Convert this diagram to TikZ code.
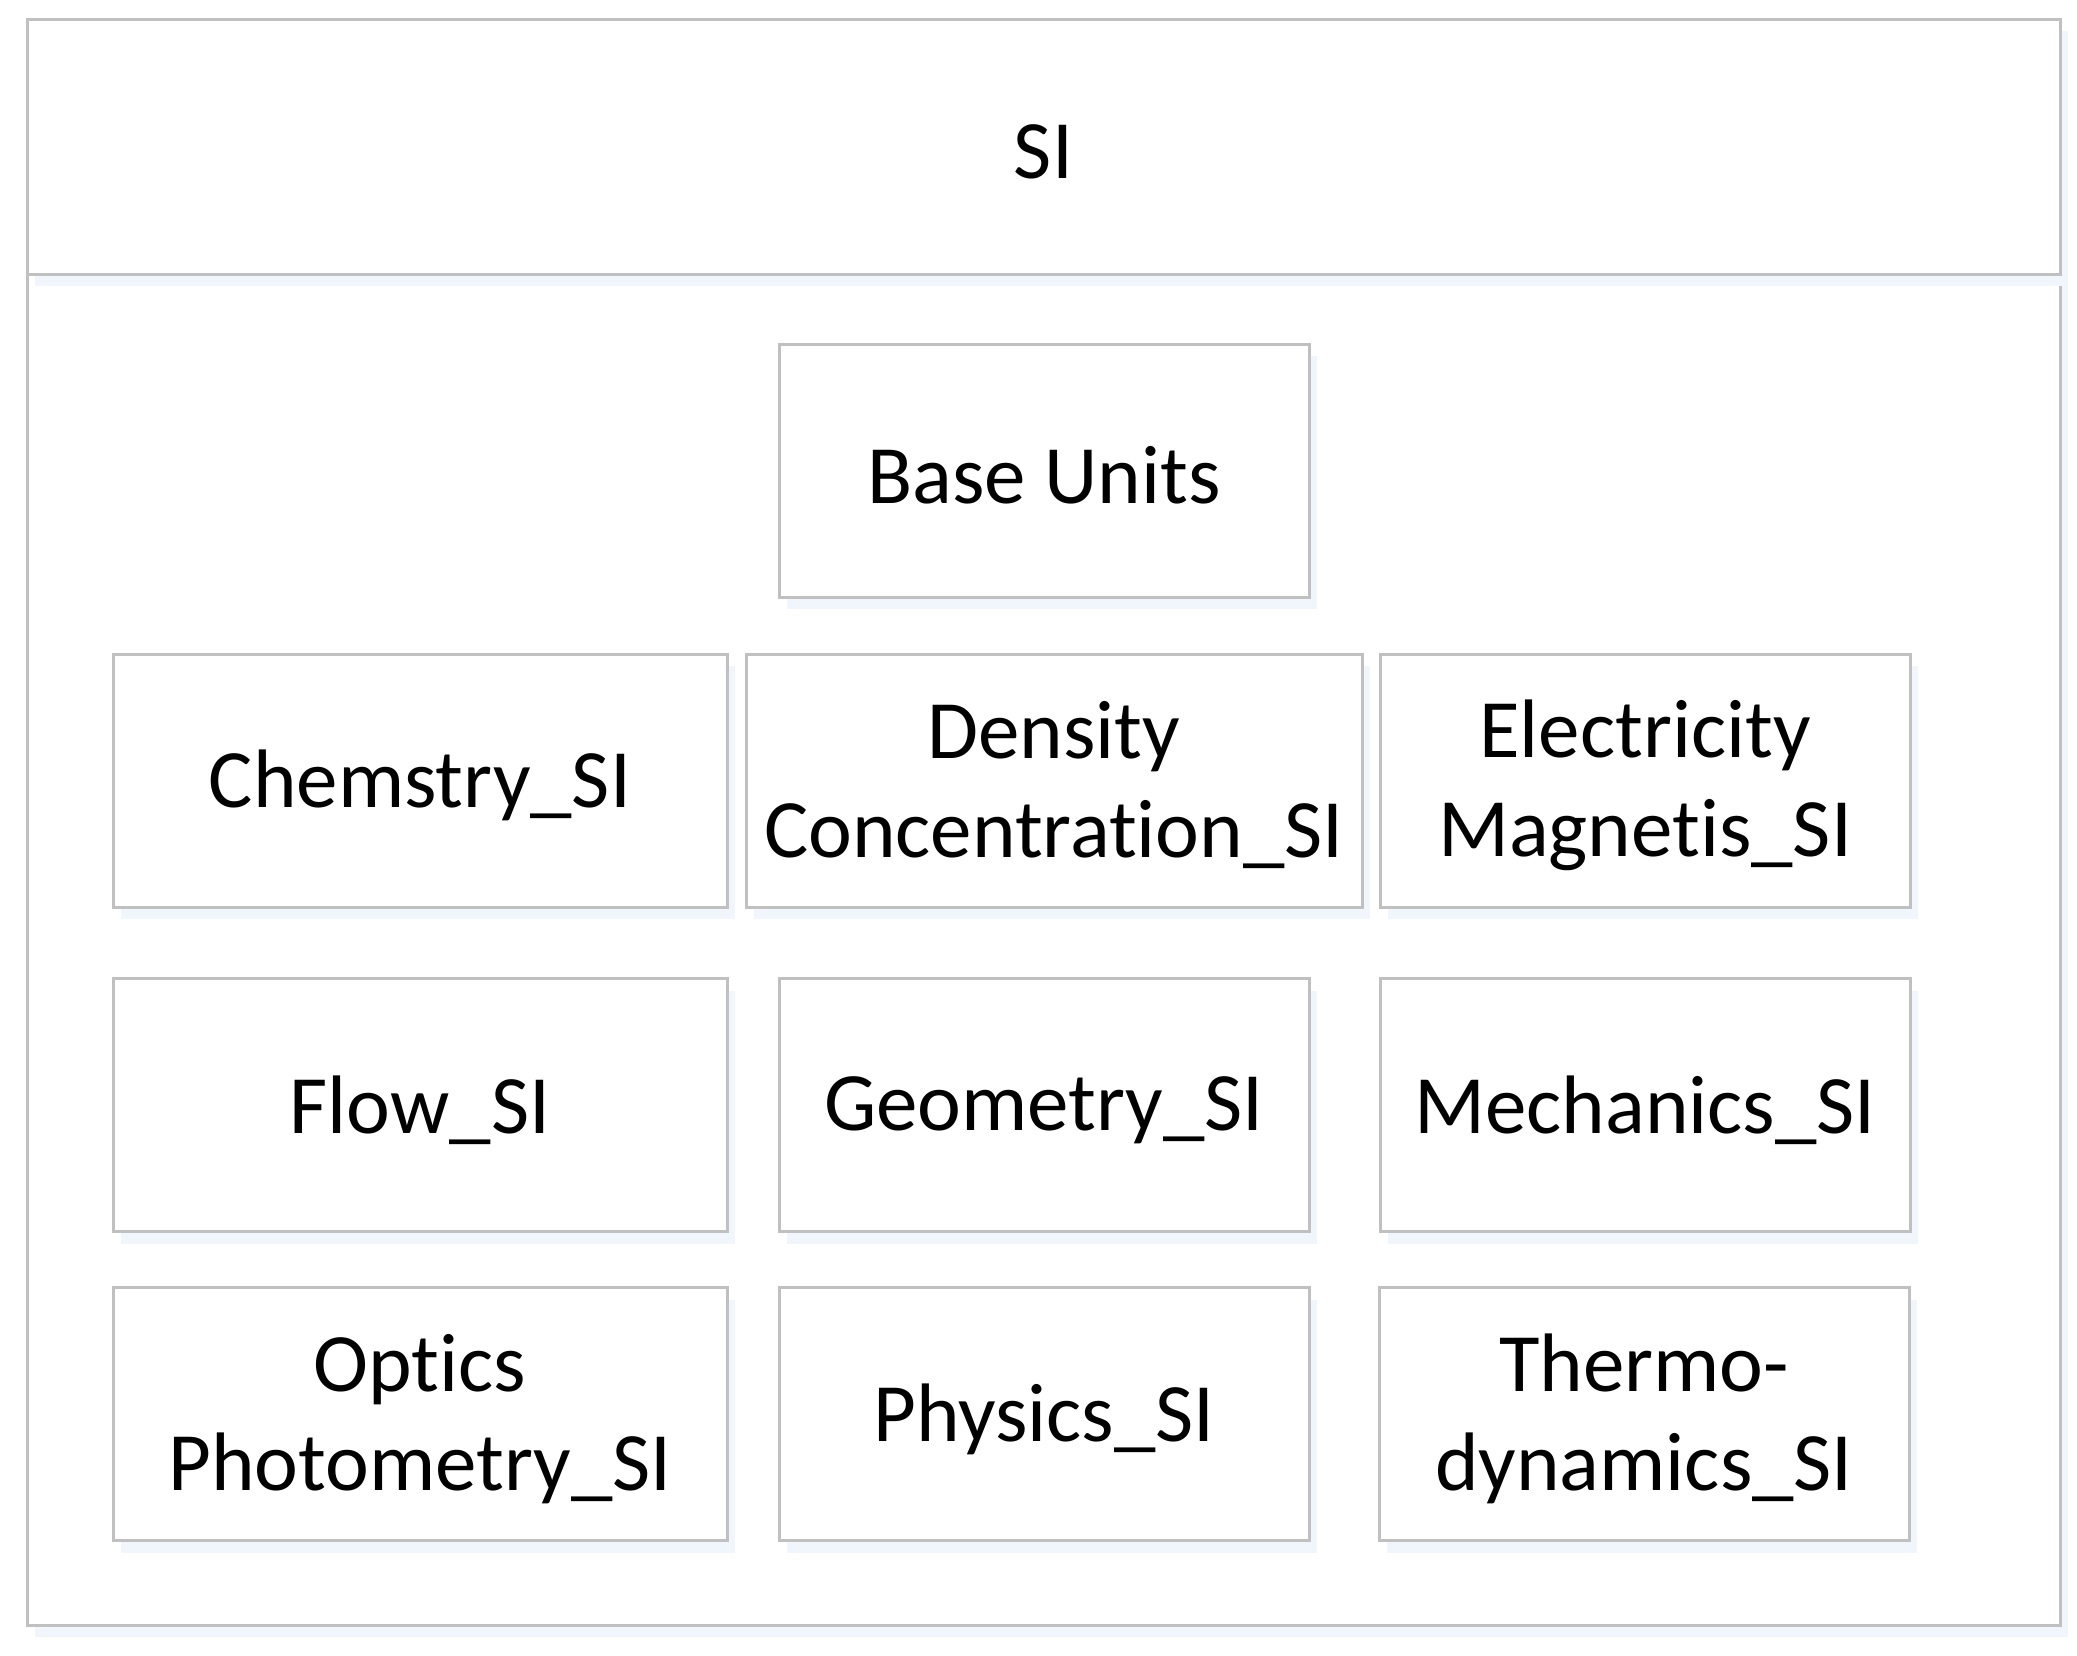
\documentclass[tikz,border=0pt]{standalone}
\usepackage{fontspec}
\setmainfont[Ligatures={NoCommon,NoRare,NoDiscretionary}]{Carlito}
\usetikzlibrary{shadows}
\definecolor{bordergray}{RGB}{192,192,192}
\definecolor{shadowblue}{RGB}{241,246,252}
\begin{document}
\begin{tikzpicture}[x=1pt,y=-1pt,
  frame/.style={draw=bordergray, line width=3pt, fill=white, inner sep=0pt,
    drop shadow={shadow xshift=8pt, shadow yshift=-12pt, fill=shadowblue, opacity=1}},
  box/.style={frame, minimum height=253pt},
  txt/.style={align=center, inner sep=0pt, font=\fontsize{83}{99}\selectfont, yshift=-5pt},
  wide/.style={minimum width=614pt},
  narrow/.style={minimum width=530pt}]
\useasboundingbox (0,0) rectangle (2077,1655);
% container
\node[frame, minimum width=2033pt, minimum height=1351pt] (body) at (1043.5,949.5) {};
\node[frame, minimum width=2033pt, minimum height=255pt] (si) at (1043.5,146.5) {};
\node[txt] (siT) at (si.center) {SI};
% inner boxes
\node[box, narrow] (base) at (1044,470.5) {};
\node[box, wide] (chem) at (420,780.5) {};
\node[box, minimum width=616pt] (dens) at (1054,780.5) {};
\node[box, narrow] (elec) at (1645,780.5) {};
\node[box, wide] (flow) at (420,1105) {};
\node[box, narrow] (geom) at (1044,1105) {};
\node[box, narrow] (mech) at (1645,1105) {};
\node[box, wide] (opt) at (420,1414) {};
\node[box, narrow] (phys) at (1044,1414) {};
\node[box, narrow] (thermo) at (1644,1414) {};
% texts
\node[txt] (baseT) at (base.center) {Base Units};
\node[txt] (chemT) at (chem.center) {Chemstry\_SI};
\node[txt] (densT) at (dens.center) {Density\\Concentration\_SI};
\node[txt] (elecT) at (elec.center) {Electricity\\Magnetis\_SI};
\node[txt] (flowT) at (flow.center) {Flow\_SI};
\node[txt] (geomT) at (geom.center) {Geometry\_SI};
\node[txt] (mechT) at (mech.center) {Mechanics\_SI};
\node[txt] (optT) at (opt.center) {Optics\\Photometry\_SI};
\node[txt] (physT) at (phys.center) {Physics\_SI};
\node[txt] (thermoT) at (thermo.center) {Thermo-\\dynamics\_SI};
\end{tikzpicture}
\end{document}
